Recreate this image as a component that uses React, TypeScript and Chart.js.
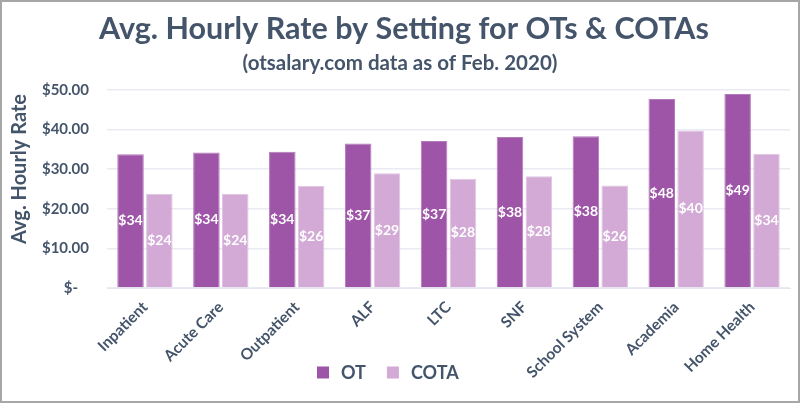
import React, { useEffect, useRef } from "react";
import { Chart, registerables } from "chart.js";

Chart.register(...registerables);

const categories = ["Inpatient", "Acute Care", "Outpatient", "ALF", "LTC", "SNF", "School System", "Academia", "Home Health"];
const otValues = [33.8, 34.2, 34.4, 36.5, 37.1, 38.1, 38.3, 47.7, 49.0];
const cotaValues = [23.8, 23.8, 25.8, 29.0, 27.6, 28.2, 25.9, 39.8, 33.9];
const seriesNames = ["OT", "COTA"];
const titleText = "Avg. Hourly Rate by Setting for OTs & COTAs";
const subtitleText = "(otsalary.com data as of Feb. 2020)";
const yAxisTitle = "Avg. Hourly Rate";

const TEXT = "#44546A";
const OT_COLOR = "#9E55A8";
const COTA_COLOR = "#D2AAD5";
const FONT = "Lato";

const overlayPlugin = {
  id: "overlay",
  afterDatasetsDraw(chart: any) {
    const ctx = chart.ctx;
    ctx.save();
    ctx.fillStyle = "#ffffff";
    ctx.font = `bold 14px ${FONT}`;
    ctx.textAlign = "center";
    ctx.textBaseline = "middle";
    chart.data.datasets.forEach((ds: any, i: number) => {
      const meta = chart.getDatasetMeta(i);
      meta.data.forEach((bar: any, j: number) => {
        const v = ds.data[j];
        const y = (bar.y + bar.base) / 2;
        ctx.fillText("$" + Math.round(v), bar.x, y);
      });
    });
    ctx.restore();
  },
  afterDraw(chart: any) {
    const ctx = chart.ctx;
    ctx.save();
    ctx.fillStyle = TEXT;
    ctx.textAlign = "center";
    ctx.textBaseline = "alphabetic";
    ctx.font = `bold 30.5px ${FONT}`;
    ctx.fillText(titleText, 404, 39);
    ctx.font = `bold 20.5px ${FONT}`;
    ctx.fillText(subtitleText, 400, 70);

    // y axis title
    ctx.save();
    ctx.translate(20, 169);
    ctx.rotate(-Math.PI / 2);
    ctx.textBaseline = "middle";
    ctx.font = `bold 20px ${FONT}`;
    ctx.fillText(yAxisTitle, 0, 0);
    ctx.restore();

    // legend
    ctx.font = `bold 18px ${FONT}`;
    const colors = [OT_COLOR, COTA_COLOR];
    const box = 12;
    const gapBoxText = 12;
    const gapItems = 21;
    const widths = seriesNames.map((n) => ctx.measureText(n).width);
    let x = 317;
    const y = 372.5;
    ctx.textAlign = "left";
    ctx.textBaseline = "middle";
    seriesNames.forEach((n, i) => {
      ctx.fillStyle = colors[i];
      ctx.fillRect(x, y - box / 2, box, box);
      x += box + gapBoxText;
      ctx.fillStyle = TEXT;
      ctx.fillText(n, x, y + 1);
      x += widths[i] + gapItems;
    });
    ctx.restore();
  },
};

export default function App() {
  const ref = useRef<HTMLCanvasElement>(null);
  useEffect(() => {
    document.body.style.margin = "0";
    const chart = new Chart(ref.current!, {
      type: "bar",
      data: {
        labels: categories,
        datasets: [
          { label: seriesNames[0], data: otValues, backgroundColor: OT_COLOR, borderColor: "#b27bb9", borderWidth: 1 },
          { label: seriesNames[1], data: cotaValues, backgroundColor: COTA_COLOR, borderColor: "#e0c6e2", borderWidth: 1 },
        ],
      },
      options: {
        animation: false,
        responsive: false,
        maintainAspectRatio: false,
        layout: { padding: { top: 90, right: 10, bottom: 0, left: 0 } },
        datasets: { bar: { categoryPercentage: 0.76, barPercentage: 0.92 } },
        plugins: {
          legend: { display: false },
          title: { display: false },
          tooltip: { enabled: false },
        },
        scales: {
          x: {
            grid: { display: false },
            border: { display: true, color: "#e4e6ee" },
            ticks: {
              color: TEXT,
              font: { family: FONT, size: 15.5, weight: "bold" },
              maxRotation: 45,
              minRotation: 45,
              padding: 2,
              autoSkip: false,
            },
            afterFit(scale: any) {
              scale.height = 115;
            },
          },
          y: {
            min: 0,
            max: 50,
            ticks: {
              stepSize: 5,
              color: TEXT,
              font: { family: FONT, size: 15, weight: "bold" },
              padding: 18,
              callback: (v: any) => {
                const n = Number(v);
                if (n % 10 !== 0) return "";
                if (n === 0) return "$-   ";
                return "$" + n.toFixed(2);
              },
            },
            grid: {
              drawTicks: false,
              color: (c: any) => (c.tick && c.tick.value % 10 === 0 ? "#e9eaf2" : "#f3f3f8"),
              lineWidth: 1.5,
            },
            border: { display: false },
            title: { display: false },
            afterFit(scale: any) {
              scale.width = 107;
            },
          },
        },
      },
      plugins: [overlayPlugin],
    });
    return () => chart.destroy();
  }, []);
  return (
    <div style={{ position: "relative", width: 800, height: 403, background: "#fff" }}>
      <canvas ref={ref} width={800} height={403} style={{ position: "absolute", left: 0, top: 0 }} />
      <div
        style={{
          position: "absolute",
          left: 0,
          top: 0,
          width: 800,
          height: 403,
          boxSizing: "border-box",
          border: "2px solid #a6a6a6",
          pointerEvents: "none",
        }}
      />
    </div>
  );
}
